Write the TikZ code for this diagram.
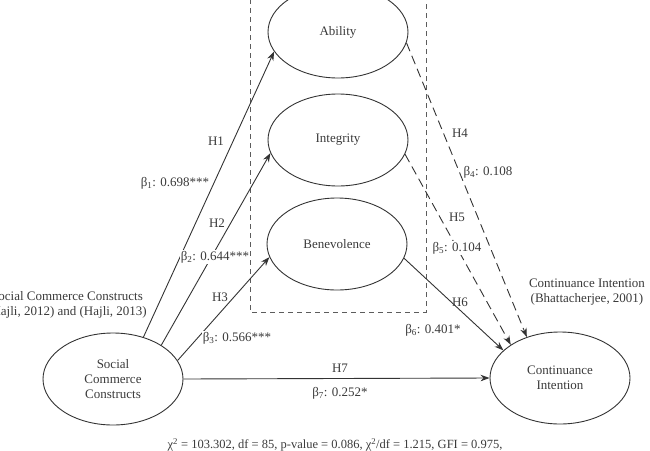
\documentclass[tikz,border=0pt]{standalone}
\usepackage{fontspec}
\setmainfont{Liberation Serif}
\usetikzlibrary{shapes.geometric,arrows.meta}
\definecolor{ink}{HTML}{333333}
\definecolor{txt}{HTML}{3A3A3A}
\tikzset{
  construct/.style={draw=ink, line width=0.9pt, ellipse, minimum width=140pt, minimum height=92pt, inner sep=0pt, align=center, text=txt, font=\fontsize{13}{15}\selectfont},
  lbl/.style={text=txt, font=\fontsize{13}{15}\selectfont, inner sep=1pt},
  coef/.style={lbl, fill=white},
  path arrow/.style={draw=ink, line width=0.9pt, -{Stealth[length=9pt,width=6.5pt]}},
  dashed arrow/.style={path arrow, dash pattern=on 9pt off 5pt},
  groupbox/.style={draw=ink!80, line width=0.9pt, dash pattern=on 5pt off 4pt}
}
\begin{document}
\begin{tikzpicture}[x=1pt,y=-1pt]
\useasboundingbox (0,0) rectangle (650,450);
% group box
\coordinate (bxtl) at (250,-10);
\coordinate (bxbr) at (426,312);
\draw[groupbox] (bxtl) |- (bxbr) -- (bxbr |- bxtl);
% constructs
\node[construct] (ab) at (338,32) {Ability};
\node[construct] (in) at (338,140) {Integrity};
\node[construct] (be) at (337,244) {Benevolence};
\node[construct] (scc) at (113,379) {Social\\Commerce\\Constructs};
\node[construct] (ci) at (560,378) {Continuance\\Intention};
% connectors
\draw[path arrow] (scc.54) -- (ab.197);
\draw[path arrow] (scc.35) -- (in.191);
\draw[path arrow] (scc.16) -- (be.191);
\draw[path arrow] (scc.0) -- (ci.180);
\draw[dashed arrow] (ab.-9) -- (ci.129);
\draw[dashed arrow] (in.-12) -- (ci.146);
\draw[path arrow] (be.-12) -- (ci.154);
% labels
\node[lbl] (h1) at (216,141) {H1};
\node[coef] (b1) at (175,183) {β\textsubscript{1}: 0.698***};
\node[lbl] (h2) at (217,223) {H2};
\node[coef] (b2) at (215,257) {β\textsubscript{2}: 0.644***};
\node[lbl] (h3) at (220,297) {H3};
\node[coef] (b3) at (237,338) {β\textsubscript{3}: 0.566***};
\node[lbl] (h7) at (340,368) {H7};
\node[coef] (b7) at (340,393) {β\textsubscript{7}: 0.252*};
\node[lbl] (h4) at (460,133) {H4};
\node[coef] (b4) at (488,172) {β\textsubscript{4}: 0.108};
\node[lbl] (h5) at (457,217) {H5};
\node[coef] (b5) at (457,248) {β\textsubscript{5}: 0.104};
\node[lbl] (h6) at (460,302) {H6};
\node[coef] (b6) at (433,330) {β\textsubscript{6}: 0.401*};
\node[lbl, align=center] (cisrc) at (587,292) {Continuance Intention\\(Bhattacherjee, 2001)};
\node[lbl, align=center, anchor=east, inner sep=0pt] (sccsrc) at (147,305) {Social Commerce Constructs\\(Hajli, 2012) and (Hajli, 2013)};
\node[lbl, font=\fontsize{12.5}{15}\selectfont] (fit) at (335,445) {χ\textsuperscript{2} = 103.302, df = 85, p-value = 0.086, χ\textsuperscript{2}/df = 1.215, GFI = 0.975,};
\end{tikzpicture}
\end{document}
